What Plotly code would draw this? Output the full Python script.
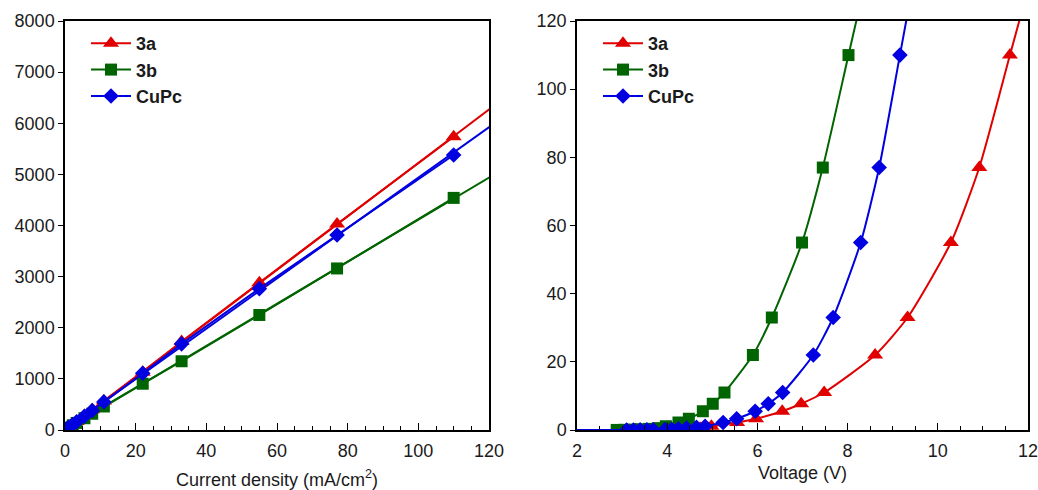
import numpy as np
import plotly.graph_objects as go

# ---------------- data ----------------
series_names = ["3a", "3b", "CuPc"]
colors = ["#e00000", "#006400", "#0000e0"]
symbols = ["triangle-up", "square", "diamond"]

# Left panel: luminance (cd/m2) vs current density (mA/cm2)
j_left = [0.0, 0.55, 1.1, 2.2, 3.3, 5.5, 7.7, 11, 22, 33, 55, 77, 110]
lum_3a = [0, 28, 56, 112, 168, 282, 395, 565, 1130, 1730, 2880, 4030, 5735]
lum_3b = [0, 23, 46, 92, 138, 230, 318, 460, 905, 1345, 2250, 3160, 4540]
lum_cupc = [0, 27, 53, 107, 162, 270, 380, 550, 1110, 1685, 2765, 3815, 5380]

# Right panel: current density (mA/cm2) vs voltage (V)
v_3a = [3.3, 3.5, 3.75, 4.0, 4.21, 4.52, 4.73, 4.98, 5.55, 5.97, 6.55, 6.97, 7.48, 8.61, 9.33, 10.29, 10.92, 11.6]
jv_3a = [0.022, 0.033, 0.055, 0.11, 0.22, 0.33, 0.55, 1.1, 2.2, 3.3, 5.5, 7.7, 11, 22, 33, 55, 77, 110]
v_3b = [2.88, 3.05, 3.2, 3.4, 3.6, 3.8, 3.97, 4.25, 4.48, 4.79, 5.01, 5.27, 5.90, 6.32, 6.99, 7.45, 8.02]
jv_3b = [0.022, 0.055, 0.11, 0.22, 0.33, 0.55, 1.1, 2.2, 3.3, 5.5, 7.7, 11, 22, 33, 55, 77, 110]
v_cupc = [0.0, 3.10, 3.25, 3.40, 3.55, 3.69, 3.95, 4.10, 4.25, 4.43, 4.65, 4.84, 5.24, 5.54, 5.95, 6.24, 6.56, 7.24, 7.68, 8.29, 8.70, 9.16]
jv_cupc = [0.0, 0.011, 0.022, 0.033, 0.055, 0.077, 0.11, 0.22, 0.33, 0.55, 0.77, 1.1, 2.2, 3.3, 5.5, 7.7, 11, 22, 33, 55, 77, 110]

left_x_range = [0, 120]
left_y_range = [0, 8000]
right_x_range = [2, 12]
right_y_range = [0, 120]

left_y_ticks = [0, 1000, 2000, 3000, 4000, 5000, 6000, 7000, 8000]
left_x_ticks = [0, 20, 40, 60, 80, 100, 120]
right_y_ticks = [0, 20, 40, 60, 80, 100, 120]
right_x_ticks = [2, 4, 6, 8, 10, 12]

# ---------------- figure ----------------
W, H = 1038, 490


def px_x(p):
    return p / W


def px_y(p):
    return 1 - p / H


fig = go.Figure()

FONT = "Liberation Sans, Arial, sans-serif"
TXT = "#1a1a1a"
MSIZE = {"triangle-up": 14, "square": 12, "diamond": 12}

left_lums = [lum_3a, lum_3b, lum_cupc]
for name, col, sym, lum in zip(series_names, colors, symbols, left_lums):
    # linear fit line extending across the axis
    k, b = np.polyfit(j_left, lum, 1)
    xf = np.array(left_x_range, dtype=float) + np.array([0, 2])
    fig.add_trace(go.Scatter(x=xf, y=k * xf + b, mode="lines",
                             line=dict(color=col, width=2), showlegend=False,
                             hoverinfo="skip", xaxis="x", yaxis="y"))
for name, col, sym, lum in zip(series_names, colors, symbols, left_lums):
    fig.add_trace(go.Scatter(x=j_left, y=lum, mode="lines+markers", name="<b>%s</b>" % name,
                             line=dict(color=col, width=2),
                             marker=dict(symbol=sym, size=MSIZE[sym], color=col),
                             legend="legend", xaxis="x", yaxis="y"))

right_data = [(v_3a, jv_3a), (v_3b, jv_3b), (v_cupc, jv_cupc)]
for name, col, sym, (v, jv) in zip(series_names, colors, symbols, right_data):
    v = list(v)
    jv = list(jv)
    # extend the curve beyond the top of the axis (linear extrapolation of last segment)
    j_ext = right_y_range[1] + 15
    v_ext = v[-1] + (j_ext - jv[-1]) * (v[-1] - v[-2]) / (jv[-1] - jv[-2])
    v.append(v_ext)
    jv.append(j_ext)
    fig.add_trace(go.Scatter(x=v, y=jv, mode="lines+markers", name="<b>%s</b>" % name,
                             line=dict(color=col, width=2, shape="spline", smoothing=0.6),
                             marker=dict(symbol=sym, size=MSIZE[sym], color=col),
                             legend="legend2", xaxis="x2", yaxis="y2"))

ax_common = dict(showline=True, linecolor="black", linewidth=1.5, mirror=True,
                 showgrid=False, zeroline=False, automargin=False,
                 ticklabeloverflow="allow",
                 tickfont=dict(family=FONT, size=18, color=TXT),
                 ticks="outside", tickcolor="black", tickwidth=1.2)

yd = [px_y(430), px_y(21)]
LEGFONT = dict(family=FONT, size=18, color=TXT)

fig.update_layout(
    width=W, height=H,
    margin=dict(l=0, r=0, t=0, b=0, autoexpand=False),
    plot_bgcolor="white", paper_bgcolor="white",
    font=dict(family=FONT, color=TXT),
    xaxis=dict(**{**ax_common, "ticks": "inside", "ticklen": 7},
               domain=[px_x(65), px_x(489)], range=left_x_range, tickvals=left_x_ticks,
               ticklabelstandoff=4,
               minor=dict(dtick=5, ticks="inside", ticklen=4, tickcolor="black", tickwidth=1.2),
               title=dict(text="Current density (mA/cm<sup>2</sup>)",
                          font=dict(family=FONT, size=18, color=TXT), standoff=17),
               anchor="y"),
    yaxis=dict(**ax_common, ticklen=5, domain=yd, range=left_y_range,
               tickvals=left_y_ticks, anchor="x"),
    xaxis2=dict(**{**ax_common, "ticks": "inside", "ticklen": 7},
                domain=[px_x(577), px_x(1028)], range=right_x_range, tickvals=right_x_ticks,
                ticklabelstandoff=4,
                minor=dict(dtick=0.5, ticks="inside", ticklen=4, tickcolor="black", tickwidth=1.2),
                title=dict(text="Voltage (V)",
                           font=dict(family=FONT, size=18, color=TXT), standoff=6),
                anchor="y2"),
    yaxis2=dict(**ax_common, ticklen=5, domain=yd, range=right_y_range,
                tickvals=right_y_ticks, anchor="x2"),
    legend=dict(x=px_x(86), y=px_y(25), xanchor="left", yanchor="top",
                font=LEGFONT, bgcolor="rgba(0,0,0,0)", tracegroupgap=0, itemwidth=40),
    legend2=dict(x=px_x(598), y=px_y(25), xanchor="left", yanchor="top",
                 font=LEGFONT, bgcolor="rgba(0,0,0,0)", tracegroupgap=0, itemwidth=40),
)

fig.write_html("out.html", config={"displayModeBar": False},
               post_script="document.body.style.margin='0px';"
                           "document.body.style.overflow='hidden';")
